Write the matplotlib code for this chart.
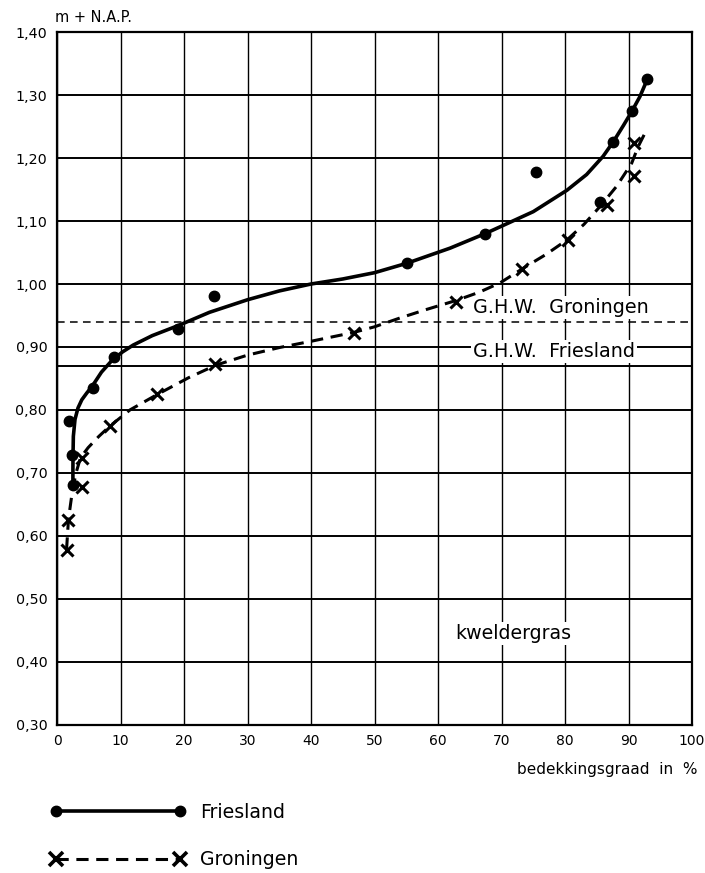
import matplotlib
matplotlib.use("Agg")
import matplotlib.pyplot as plt
from matplotlib.lines import Line2D

plt.rcParams['font.family'] = ['DejaVu Sans']

# measured points (bedekkingsgraad %, m + N.A.P.)
fr_x = [1.9, 2.3, 2.5, 5.6, 8.9, 19.0, 24.7, 55.1, 67.4, 75.5, 85.5, 87.6, 90.5, 92.9]
fr_y = [0.782, 0.729, 0.680, 0.835, 0.884, 0.929, 0.981, 1.034, 1.080, 1.178, 1.130, 1.225, 1.275, 1.325]

gr_x = [1.5, 1.8, 4.0, 3.9, 8.4, 15.7, 24.9, 46.7, 62.9, 73.3, 80.4, 86.6, 90.9, 90.9]
gr_y = [0.578, 0.625, 0.678, 0.724, 0.775, 0.825, 0.873, 0.922, 0.972, 1.024, 1.070, 1.126, 1.172, 1.224]

# hand drawn curves
fr_curve_x = [2.5, 2.5, 2.52, 2.57, 2.83, 3.3, 3.9, 4.7, 5.5, 7.0, 8.6, 10.3, 12.0, 15.0, 19.1,
              24.0, 30, 35, 40, 45, 50, 55.1, 61.9, 67.4, 69.8, 75.0, 80.3, 83.4, 86.0, 87.6,
              89.2, 90.5, 91.8, 92.9]
fr_curve_y = [0.679, 0.705, 0.729, 0.758, 0.785, 0.803, 0.816, 0.827, 0.837, 0.860, 0.878, 0.892,
              0.903, 0.918, 0.934, 0.955, 0.975, 0.989, 1.000, 1.008, 1.018, 1.033, 1.057, 1.080,
              1.091, 1.115, 1.149, 1.174, 1.203, 1.226, 1.252, 1.274, 1.298, 1.324]

gr_curve_x = [1.5, 1.8, 2.4, 3.0, 3.7, 4.9, 6.6, 8.3, 11.5, 15.7, 20.7, 25, 30, 35, 40, 46.7,
              50, 54.0, 58, 62.9, 66.5, 69.8, 73.4, 77, 80.3, 83, 85.5, 88.1, 90.5, 91.5, 92.7]
gr_curve_y = [0.578, 0.626, 0.670, 0.700, 0.724, 0.740, 0.758, 0.774, 0.800, 0.824, 0.851, 0.871,
              0.887, 0.899, 0.909, 0.923, 0.932, 0.946, 0.959, 0.974, 0.987, 1.002, 1.025, 1.047,
              1.070, 1.095, 1.123, 1.155, 1.192, 1.218, 1.242]

ghw_groningen = 0.94
ghw_friesland = 0.87

x_ticks = list(range(0, 101, 10))
y_ticks = [0.30, 0.40, 0.50, 0.60, 0.70, 0.80, 0.90, 1.00, 1.10, 1.20, 1.30, 1.40]
y_labels = ['0,30', '0,40', '0,50', '0,60', '0,70', '0,80', '0,90', '1,00', '1,10', '1,20', '1,30', '1,40']

fig = plt.figure(figsize=(7.05, 8.73), dpi=100)
ax = fig.add_axes([0.0809, 0.1701, 0.9007, 0.7929])
ax.set_xlim(0, 100)
ax.set_ylim(0.30, 1.40)

for xv in x_ticks:
    ax.axvline(xv, color='black', lw=1.0, zorder=1)
for yv in y_ticks:
    ax.axhline(yv, color='black', lw=1.4, zorder=1)

ax.axhline(ghw_groningen, color='black', lw=1.1, dashes=(5, 3.5), zorder=1)
ax.axhline(ghw_friesland, color='black', lw=1.4, zorder=1)

ax.plot(fr_curve_x, fr_curve_y, color='black', lw=2.6, zorder=3,
        solid_capstyle='round', solid_joinstyle='round')
ax.plot(gr_curve_x, gr_curve_y, color='black', lw=2.2, dashes=(4, 2.5), zorder=3)
ax.plot(fr_x, fr_y, 'o', color='black', ms=7.5, zorder=4)
ax.plot(gr_x, gr_y, 'x', color='black', ms=8, mew=2.2, zorder=4)

box = dict(facecolor='white', edgecolor='none', pad=1.5)
ax.text(65.5, 0.963, 'G.H.W.  Groningen', fontsize=13.8, va='center', ha='left', bbox=box, zorder=2)
ax.text(65.5, 0.893, 'G.H.W.  Friesland', fontsize=13.8, va='center', ha='left', bbox=box, zorder=2)
ax.text(62.7, 0.445, 'kweldergras', fontsize=13.7, va='center', ha='left', bbox=box, zorder=2)

ax.set_xticks(x_ticks)
ax.set_xticklabels([str(v) for v in x_ticks], fontsize=10)
ax.set_yticks(y_ticks)
ax.set_yticklabels(y_labels, fontsize=10.3)
ax.tick_params(length=0, pad=7)
for s in ax.spines.values():
    s.set_linewidth(1.6)

fig.text(0.078, 0.980, 'm + N.A.P.', fontsize=10.5, ha='left', va='center')
fig.text(0.990, 0.118, 'bedekkingsgraad  in  %', fontsize=11, ha='right', va='center')

handles = [
    Line2D([], [], color='black', lw=2.6, marker='o', ms=7.5, label='Friesland'),
    Line2D([], [], color='black', lw=2.2, dashes=(4, 2.5), marker='x', ms=9.5, mew=2.6, label='Groningen'),
]
fig.legend(handles=handles, loc='upper left', bbox_to_anchor=(0.0714, 0.0802), numpoints=2,
           handlelength=7.16, handletextpad=0.76, labelspacing=1.5, frameon=False,
           fontsize=13.6, borderaxespad=0, borderpad=0)

fig.savefig('out.png', dpi=100)
